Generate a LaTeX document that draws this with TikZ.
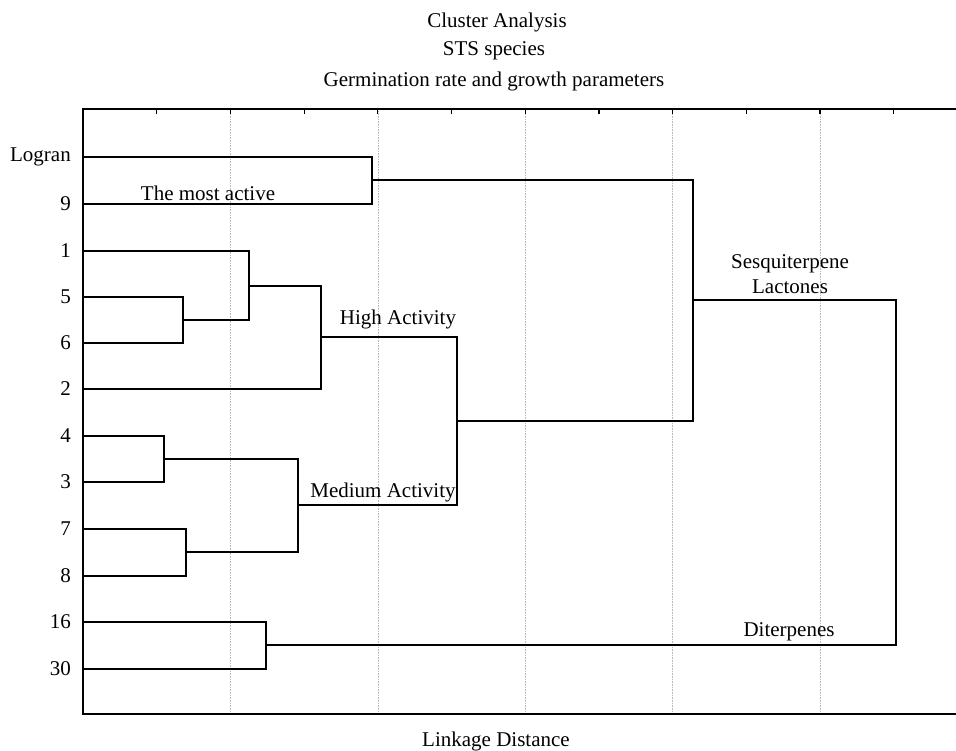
\documentclass[tikz,border=0pt]{standalone}
\usepackage{fontspec}
\setmainfont{Liberation Serif}
\begin{document}
\begin{tikzpicture}[x=1pt,y=-1pt,
  lbl/.style={font=\fontsize{21}{25}\selectfont, inner sep=0pt},
  rowlbl/.style={lbl, anchor=east},
  den/.style={line width=2.2pt, line join=miter},
  gridln/.style={densely dotted, gray!55, line width=0.6pt},
  frameln/.style={line width=2.2pt}]
\useasboundingbox (0,0) rectangle (956,751);
% titles
\node[lbl] (t1) at (497,22) {Cluster Analysis};
\node[lbl] (t2) at (494,51) {STS species};
\node[lbl] (t3) at (494,81) {Germination rate and growth parameters};
\node[lbl] (xl) at (496,741) {Linkage Distance};
% grid
\foreach \k in {2,4,6,8,10} {\draw[gridln] ({83+\k*73.7},111) -- ({83+\k*73.7},712);}
\foreach \k in {1,...,11} {\draw[line width=1.2pt] ({83+\k*73.7},109) -- ({83+\k*73.7},114);}
% frame
\draw[frameln] (956,109) -- (83,109) -- (83,714) -- (956,714);
% leaves
\foreach \n/\y/\t in {Lg/157/Logran, n9/204/9, n1/251/1, n5/297/5, n6/343/6, n2/389/2, n4/436/4, n3/482/3, n7/529/7, n8/576/8, n16/622/16, n30/669/30} {
  \coordinate (\n) at (83,\y);
  \node[rowlbl] (l\n) at (71,\y) {\t};
}
% merge points
\coordinate (m56) at (183,320);
\coordinate (m156) at (249,286);
\coordinate (mHigh) at (321,337);
\coordinate (m43) at (164,459);
\coordinate (m78) at (186,552);
\coordinate (mMed) at (298,505);
\coordinate (mHM) at (457,421);
\coordinate (mLN) at (372,180);
\coordinate (mSL) at (693,300);
\coordinate (m1630) at (266,645);
\coordinate (mAll) at (896,473);
% dendrogram
\draw[den] (Lg) -| (mLN) |- (n9);
\draw[den] (n5) -| (m56) |- (n6);
\draw[den] (n1) -| (m156) |- (m56);
\draw[den] (m156) -| (mHigh) |- (n2);
\draw[den] (n4) -| (m43) |- (n3);
\draw[den] (n7) -| (m78) |- (n8);
\draw[den] (m43) -| (mMed) |- (m78);
\draw[den] (mHigh) -| (mHM) |- (mMed);
\draw[den] (mLN) -| (mSL) |- (mHM);
\draw[den] (n16) -| (m1630) |- (n30);
\draw[den] (mSL) -| (mAll) |- (m1630);
% cluster labels
\node[lbl] (a1) at (208,193) {The most active};
\node[lbl] (a2) at (398,319) {High Activity};
\node[lbl] (a3) at (383,492) {Medium Activity};
\node[lbl, align=center] (a4) at (790,274) {Sesquiterpene\\Lactones};
\node[lbl] (a5) at (789,632) {Diterpenes};
\end{tikzpicture}
\end{document}
